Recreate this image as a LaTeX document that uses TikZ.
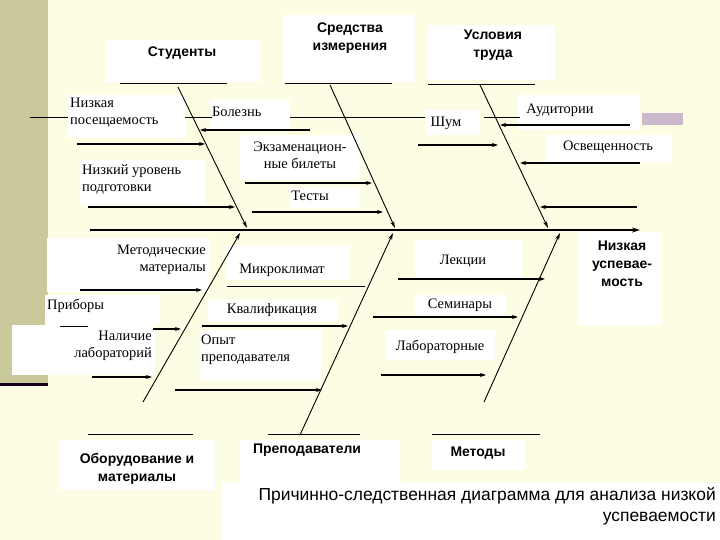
\documentclass[tikz,border=0pt]{standalone}
\usepackage{fontspec}
\setmainfont{Liberation Serif}
\setsansfont{Liberation Sans}
\usetikzlibrary{arrows.meta}
\definecolor{bg}{HTML}{FDFDE3}
\definecolor{strip}{HTML}{C9C99B}
\begin{document}
\begin{tikzpicture}[x=1bp,y=-1bp,
  bone/.style={line width=0.9bp,-{Stealth[length=7bp,width=4bp]}},
  sub/.style={line width=1.1bp,-{Stealth[length=6bp,width=4bp]}},
  plain/.style={line width=0.9bp},
  lab/.style={font=\fontsize{14.5}{17}\selectfont,inner sep=0pt,align=center},
  head/.style={font=\sffamily\bfseries\fontsize{14}{18}\selectfont,inner sep=0pt,align=center}]
\useasboundingbox (0,0) rectangle (720,540);
\fill[bg] (0,0) rectangle (720,540);
\fill[strip] (0,0) rectangle (48,383);
\fill[black!80!violet] (0,383) rectangle (48,386);
\fill[gray!60!violet!40] (642,113) rectangle (683,125);
% white boxes
\foreach \a/\b/\c/\d in {105/40/260/82, 283/15/415/82, 428/25/555/80, 68/95/185/138, 210/100/290/130,
  80/160/205/205, 240/135/360/180, 290/188/360/208, 425/110/480/135, 518/95/640/130, 545/135/672/163,
  47/238/210/292, 45/295/160/325, 12/325/155/375, 225/245/350/280, 208/300/338/322, 200/330/322/380,
  415/240/522/280, 415/295/505/315, 385/330/495/360, 578/232/662/325, 60/440/215/490, 240/440/400/490,
  432/440/525/470, 222/483/720/540}
  \fill[white] (\a,\b) rectangle (\c,\d);
% headings
\node[head] (stud) at (182,53) {Студенты};
\node[head] (sred) at (350,38) {Средства\\измерения};
\node[head] (usl) at (493,45) {Условия\\труда};
\node[head] (obor) at (137,469) {Оборудование и\\материалы};
\node[head] (prep) at (307,450) {Преподаватели};
\node[head] (met) at (478,453) {Методы};
\node[head] (eff) at (622,264) {Низкая\\успевае-\\мость};
\node[font=\sffamily\fontsize{17.5}{21}\selectfont,align=right,anchor=north east,inner sep=0pt] (cap) at (716,487)
  {Причинно-следственная диаграмма для анализа низкой\\успеваемости};
% underlines
\draw[plain] (120,83) -- (227,83);
\draw[plain] (285,83) -- (392,83);
\draw[plain] (428,84) -- (535,84);
\draw[plain] (88,434) -- (193,434);
\draw[plain] (268,434) -- (360,434);
\draw[plain] (432,434) -- (540,434);
% spine
\coordinate (s0) at (90,230); \coordinate (s1) at (640,230);
\draw[line width=2.5bp,-{Stealth[length=8bp,width=5bp]}] (s0) -- (s1);
% bones
\coordinate (b1a) at (178,87); \coordinate (b1b) at (247,228);
\coordinate (b2a) at (330,85); \coordinate (b2b) at (395,228);
\coordinate (b3a) at (480,85); \coordinate (b3b) at (548,228);
\coordinate (b4a) at (143,402); \coordinate (b4b) at (240,233);
\coordinate (b5a) at (300,435); \coordinate (b5b) at (393,233);
\coordinate (b6a) at (484,402); \coordinate (b6b) at (560,233);
\foreach \p in {1,...,6} \draw[bone] (b\p a) -- (b\p b);
% labels
\node[lab,align=left,anchor=north west] (n1) at (70,98) {Низкая\\посещаемость};
\node[lab,align=left,anchor=north west] (n2) at (82,164) {Низкий уровень\\подготовки};
\node[lab,anchor=west] (n3) at (212,112) {Болезнь};
\node[lab] (n4) at (300,155) {Экзаменацион-\\ные билеты};
\node[lab] (n5) at (310,196) {Тесты};
\node[lab] (n6) at (446,123) {Шум};
\node[lab] (n7) at (560,110) {Аудитории};
\node[lab] (n8) at (608,147) {Освещенность};
\node[lab,align=right,anchor=north east] (n9) at (206,245) {Методические\\материалы};
\node[lab,anchor=west] (n10) at (47,306) {Приборы};
\node[lab,align=right,anchor=north east] (n11) at (152,331) {Наличие\\лабораторий};
\node[lab] (n12) at (282,270) {Микроклимат};
\node[lab] (n13) at (272,310) {Квалификация};
\node[lab,align=left,anchor=north west] (n14) at (201,335) {Опыт\\преподавателя};
\node[lab] (n15) at (463,261) {Лекции};
\node[lab] (n16) at (460,305) {Семинары};
\node[lab] (n17) at (440,347) {Лаборатор\-ные};
% sub lines
\coordinate (l1a) at (30,117); \coordinate (l1b) at (68,117);
\draw[plain] (l1a) -- (l1b);
\coordinate (l2a) at (185,117); \coordinate (l2b) at (212,117);
\draw[plain] (l2a) -- (l2b);
\coordinate (l3a) at (290,117); \coordinate (l3b) at (425,117);
\draw[plain] (l3a) -- (l3b);
\coordinate (l4a) at (484,117); \coordinate (l4b) at (520,117);
\draw[plain] (l4a) -- (l4b);
\foreach \xa/\ya/\xb/\yb in {310/130/200/130, 77/144/205/144, 88/207/235/207, 245/183/372/183, 252/212/383/212,
  630/125/500/125, 418/145/498/145, 640/163/520/163, 637/207/540/207,
  80/290/202/290, 153/329/181/329, 92/377/152/377, 202/326/348/326, 175/390/322/390,
  398/279/545/279, 373/317/518/317, 381/375/486/375}
  \draw[sub] (\xa,\ya) -- (\xb,\yb);
\draw[plain] (60,326) -- (88,326);
\draw[plain] (227,286) -- (365,286);
\end{tikzpicture}
\end{document}
